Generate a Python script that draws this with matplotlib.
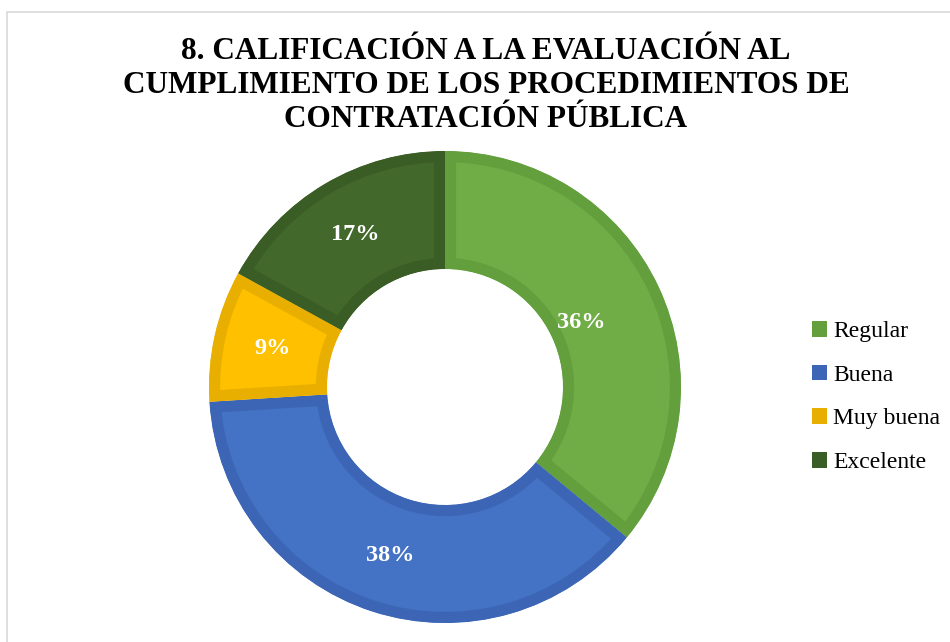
import matplotlib
matplotlib.use("Agg")
import matplotlib.pyplot as plt
from matplotlib.patches import Patch, Rectangle
import numpy as np

categories = ["Regular", "Buena", "Muy buena", "Excelente"]
shares = [36, 38, 9, 17]
fill_colors = ["#70AD47", "#4472C4", "#FFC000", "#43682B"]
edge_colors = ["#63A03D", "#3C66B5", "#E8AE00", "#3A5C25"]
label_radius = [0.64, 0.75, 0.75, 0.75]

TITLE = "8. CALIFICACIÓN A LA EVALUACIÓN AL\nCUMPLIMIENTO DE LOS PROCEDIMIENTOS DE\nCONTRATACIÓN PÚBLICA"

plt.rcParams["font.family"] = ["Liberation Serif", "DejaVu Serif"]

W, H = 950, 642
fig = plt.figure(figsize=(W / 100, H / 100), dpi=100)

# chart frame (light grey, runs off the right/bottom edge)
fig.patches.append(Rectangle((7 / W, -0.1), 1.2, 1 - 12 / H + 0.1, transform=fig.transFigure,
                             fill=False, edgecolor="#D9D9D9", linewidth=1.2))

cx, cy, R = 445, H - 387, 236
ax = fig.add_axes([(cx - R) / W, (cy - R) / H, 2 * R / W, 2 * R / H])

wedges, _ = ax.pie(shares, colors=fill_colors, startangle=90, counterclock=False,
                   radius=1, wedgeprops=dict(width=0.5, linewidth=0))
ax.set_xlim(-1, 1)
ax.set_ylim(-1, 1)
ax.set_aspect("equal")
ax.axis("off")

# inner border: stroke clipped to the wedge itself
for w, ec in zip(wedges, edge_colors):
    w.set_edgecolor(ec)
    w.set_linewidth(16)
    w.set_clip_on(True)
    w.set_clip_path(w.get_path(), ax.transData)

start = 90.0
for s, rr in zip(shares, label_radius):
    span = s / sum(shares) * 360
    mid = np.deg2rad(start - span / 2)
    ax.text(rr * np.cos(mid), rr * np.sin(mid), f"{s}%", ha="center", va="center",
            color="white", fontsize=17.5, fontweight="bold")
    start -= span

fig.text(486 / W, 1 - 37 / H, TITLE, ha="center", va="top", fontsize=22.5,
         fontweight="bold", linespacing=1.22)

handles = [Patch(facecolor=c, edgecolor="none") for c in edge_colors]
fig.legend(handles, categories, loc="center left", bbox_to_anchor=(812 / W, 1 - 397 / H),
           frameon=False, fontsize=17, handlelength=0.65, handleheight=0.65,
           handletextpad=0.25, labelspacing=0.95, borderpad=0, borderaxespad=0)

fig.savefig("out.png", dpi=100)
